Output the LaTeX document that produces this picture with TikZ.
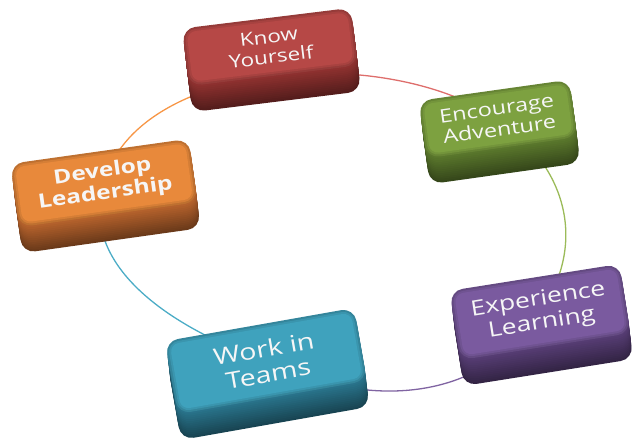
\documentclass[tikz,border=0pt]{standalone}
\usepackage{fontspec}
\setmainfont{Open Sans}
\usetikzlibrary{calc,backgrounds}
\definecolor{knowF}{RGB}{182,72,70}
\definecolor{knowS}{RGB}{145,50,48}
\definecolor{encF}{RGB}{125,161,64}
\definecolor{encS}{RGB}{92,122,45}
\definecolor{devF}{RGB}{232,137,59}
\definecolor{devS}{RGB}{185,100,45}
\definecolor{expF}{RGB}{122,90,159}
\definecolor{expS}{RGB}{88,62,118}
\definecolor{teamF}{RGB}{63,162,189}
\definecolor{teamS}{RGB}{42,118,142}
\definecolor{ringR}{RGB}{222,110,108}
\definecolor{ringG}{RGB}{155,187,89}
\definecolor{ringP}{RGB}{128,100,162}
\definecolor{ringB}{RGB}{75,172,198}
\definecolor{ringO}{RGB}{247,150,70}
\definecolor{txtcol}{RGB}{246,246,246}
\tikzset{
  tileshape/.style={rectangle, rounded corners=13pt, inner sep=0pt, draw=none},
  ringline/.style={line width=1.3pt},
  tiletext/.style={align=center, inner sep=0pt, text=txtcol}
}
% #1 name, #2 x, #3 y (image coords), #4 width, #5 height, #6 rotation,
% #7 colour prefix, #8 font size, #9 text
\newcommand{\tile}[9]{%
  \foreach \k in {14,13,...,1}{%
    \pgfmathtruncatemacro{\mixv}{100-3*\k}%
    \node[tileshape, minimum width=#4pt, minimum height=#5pt, rotate=#6,
          fill=#7S!\mixv!black] at ($(#2,-#3)+(\k*0.22,-\k*1.85)$) {};
  }
  \node[tileshape, minimum width=#4pt, minimum height=#5pt, rotate=#6,
        fill=#7F!82!black] (#1) at (#2,-#3) {};
  \node[tileshape, rounded corners=11pt, minimum width=#4pt-4pt, minimum height=#5pt-4pt,
        rotate=#6, fill=#7F!92!black] at (#2,-#3) {};
  \node[tileshape, rounded corners=9pt, minimum width=#4pt-8pt, minimum height=#5pt-8pt,
        rotate=#6, fill=#7F] at (#2,-#3) {};
  \pgfmathsetmacro{\lskip}{#8*1.12}%
  \node[tiletext, rotate=#6, yscale=.8, transform shape,
        font=\fontsize{#8}{\lskip}\selectfont] at (#2,-#3) {#9};
}
\begin{document}
\begin{tikzpicture}[x=1pt,y=1pt]
\useasboundingbox (0,0) rectangle (642,-443);
\tile{know}{270}{47}{170}{58}{7}{know}{22.5}{Know\\Yourself}
\tile{enc}{498}{119}{152}{58}{8}{enc}{23.5}{Encourage\\Adventure}
\tile{dev}{104}{183}{180}{64}{8}{dev}{24.5}{\bfseries Develop\\\bfseries Leadership}
\tile{exp}{540}{312}{172}{70}{9}{exp}{26.5}{Experience\\Learning}
\tile{teams}{266}{361}{192}{74}{10}{team}{28.5}{Work in\\Teams}
\begin{scope}[on background layer]
  \draw[ringline, ringR] (know.south) .. controls (348.4,-67) and (438.3,-79.4) .. (enc.center);
  \draw[ringline, ringG] (enc.center) .. controls (573.4,-172.1) and (583.7,-250.2) .. (exp.center);
  \draw[ringline, ringP] (exp.center) .. controls (485.9,-398) and (376,-413) .. (teams.center);
  \draw[ringline, ringB] (teams.center) .. controls (158,-323) and (79.6,-259.2) .. (dev.center);
  \draw[ringline, ringO] (dev.center) .. controls (119.3,-124) and (188,-85.8) .. (know.south);
\end{scope}
\end{tikzpicture}
\end{document}
